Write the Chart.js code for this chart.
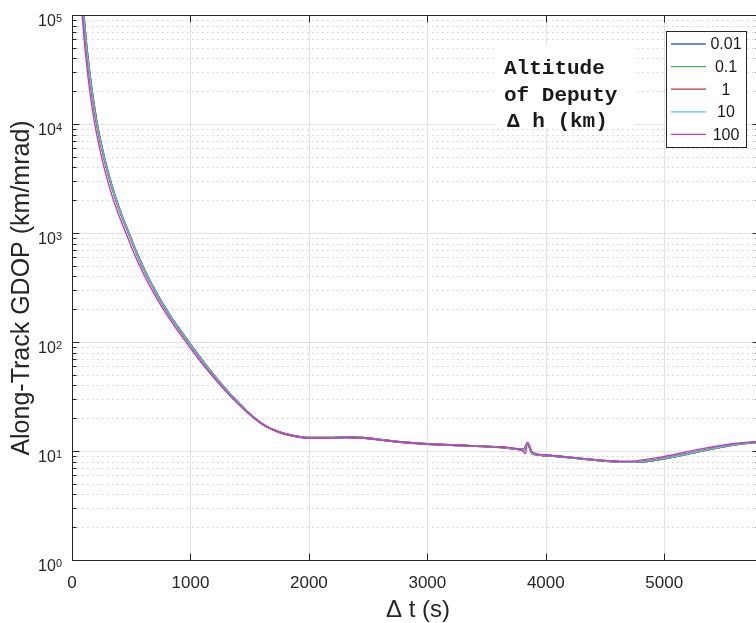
<!DOCTYPE html>
<html>
<head>
<meta charset="utf-8">
<script src="https://cdn.jsdelivr.net/npm/chart.js@4.4.1/dist/chart.umd.min.js"></script>
<style>
    html, body { margin: 0; padding: 0; background: #fff; overflow: hidden; }
    #wrap { width: 759px; height: 623px; }
</style>
</head>
<body>
<div id="wrap"><canvas id="gdop" width="759" height="623"></canvas></div>
<script>
// Δt (s) samples and along-track GDOP (km/mrad) for the low-altitude deputies (0.01 .. 10 km)
const deltaT = [85, 98, 120, 145, 175, 211, 250, 300, 360, 420, 478, 550, 630, 720, 820, 900, 985, 1090, 1200, 1336, 1477, 1617, 1758, 1900, 2000, 2180, 2320, 2460, 2600, 2770, 3000, 3340, 3620, 3815, 3845, 3886, 4000, 4320, 4600, 4745, 5000, 5310, 5590, 5800];
const gdopLow = [1.53e5, 1.0e5, 5.45e4, 3.09e4, 1.76e4, 1.0e4, 6.2e3, 3.71e3, 2.22e3, 1.44e3, 1.0e3, 640, 415, 272, 180, 134, 100, 69.5, 49.1, 33, 23.1, 17.4, 14.8, 13.6, 13.2, 13.2, 13.4, 13.2, 12.7, 12.1, 11.6, 11.2, 10.8, 10.3, 11.8, 9.45, 9.1, 8.45, 7.98, 7.93, 8.55, 10.0, 11.4, 12.1];

// 100 km deputy
const deltaTHigh = [72, 85, 106, 129, 157, 192, 230, 278, 337, 397, 455, 527, 607, 697, 797, 877, 962, 1070, 1183, 1324, 1470, 1614, 1758, 1900, 2000, 2180, 2320, 2460, 2600, 2770, 3000, 3340, 3620, 3790, 3830, 3845, 3890, 4000, 4300, 4560, 4680, 5000, 5300, 5590, 5800];
const gdopHigh = [1.53e5, 1.0e5, 5.45e4, 3.09e4, 1.76e4, 1.0e4, 6.2e3, 3.71e3, 2.22e3, 1.44e3, 1.0e3, 640, 415, 272, 180, 134, 100, 69.5, 49.1, 33, 23.1, 17.4, 14.8, 13.5, 13.1, 13.1, 13.3, 13.1, 12.6, 12.1, 11.6, 11.2, 10.8, 10.3, 9.5, 12.0, 9.7, 9.2, 8.55, 8.1, 8.05, 8.9, 10.4, 11.7, 12.2];

const altitudeLabels = ['0.01', '0.1', '1', '10', '100'];
const lineColors = ['#4466cc', '#4fae5c', '#c83232', '#4ccccc', '#c23cc2'];
const xTickValues = [0, 1000, 2000, 3000, 4000, 5000];
const yDecades = [0, 1, 2, 3, 4, 5];

const sansFont = '"Liberation Sans", Arial, Helvetica, sans-serif';
const monoFont = '"Liberation Mono", "Courier New", monospace';
const axisColor = '#262626';

const toPoints = (xs, ys) => xs.map((x, i) => ({ x, y: ys[i] }));

const seriesData = [
    toPoints(deltaT, gdopLow),
    toPoints(deltaT, gdopLow),
    toPoints(deltaT, gdopLow),
    toPoints(deltaT, gdopLow),
    toPoints(deltaTHigh, gdopHigh),
];

const crisp = (v) => Math.round(v) + 0.5;

// grid, box, ticks, labels, legend and the text note, drawn the way MATLAB lays them out
const matlabAxes = {
    id: 'matlabAxes',
    beforeDatasetsDraw(chart) {
        const { ctx, chartArea: area, scales: { x, y } } = chart;
        ctx.save();
        ctx.lineWidth = 1;

        // minor log grid (dotted)
        ctx.strokeStyle = '#d0d0d0';
        ctx.setLineDash([1.5, 3.5]);
        yDecades.slice(0, -1).forEach((k) => {
            for (let m = 2; m <= 9; m++) {
                const py = crisp(y.getPixelForValue(m * 10 ** k));
                ctx.beginPath();
                ctx.moveTo(area.left, py);
                ctx.lineTo(area.right, py);
                ctx.stroke();
            }
        });
        ctx.setLineDash([]);

        // major grid
        ctx.strokeStyle = '#e2e2e2';
        yDecades.slice(1, -1).forEach((k) => {
            const py = crisp(y.getPixelForValue(10 ** k));
            ctx.beginPath();
            ctx.moveTo(area.left, py);
            ctx.lineTo(area.right, py);
            ctx.stroke();
        });
        xTickValues.slice(1).forEach((v) => {
            const px = crisp(x.getPixelForValue(v));
            ctx.beginPath();
            ctx.moveTo(px, area.top);
            ctx.lineTo(px, area.bottom);
            ctx.stroke();
        });
        ctx.restore();
    },
    afterDatasetsDraw(chart) {
        const { ctx, chartArea: area, scales: { x, y } } = chart;
        const left = crisp(area.left);
        const right = crisp(area.right);
        const top = crisp(area.top);
        const bottom = crisp(area.bottom);

        ctx.save();

        // note box
        ctx.fillStyle = '#fff';
        ctx.fillRect(497, 46, 138, 82);
        ctx.fillStyle = '#1a1a1a';
        ctx.font = `bold 21px ${monoFont}`;
        ctx.textAlign = 'left';
        ctx.textBaseline = 'alphabetic';
        ctx.fillText('Altitude', 504, 74);
        ctx.fillText('of Deputy', 504, 101);
        ctx.fillText('Δ h (km)', 507, 127);

        // axes box
        ctx.strokeStyle = axisColor;
        ctx.lineWidth = 1;
        ctx.beginPath();
        ctx.moveTo(left, top);
        ctx.lineTo(left, bottom);
        ctx.lineTo(right, bottom);
        ctx.lineTo(right, top);
        ctx.closePath();
        ctx.stroke();

        // tick marks
        ctx.beginPath();
        xTickValues.forEach((v) => {
            const px = crisp(x.getPixelForValue(v));
            ctx.moveTo(px, bottom);
            ctx.lineTo(px, bottom - 7);
            ctx.moveTo(px, top);
            ctx.lineTo(px, top + 7);
        });
        yDecades.forEach((k) => {
            const py = crisp(y.getPixelForValue(10 ** k));
            ctx.moveTo(left, py);
            ctx.lineTo(left + 7, py);
            ctx.moveTo(right, py);
            ctx.lineTo(right - 7, py);
            if (k === 5) {
                return;
            }
            for (let m = 2; m <= 9; m++) {
                const pm = crisp(y.getPixelForValue(m * 10 ** k));
                ctx.moveTo(left, pm);
                ctx.lineTo(left + 4, pm);
                ctx.moveTo(right, pm);
                ctx.lineTo(right - 4, pm);
            }
        });
        ctx.stroke();

        // x tick labels
        ctx.fillStyle = axisColor;
        ctx.font = `17px ${sansFont}`;
        ctx.textAlign = 'center';
        ctx.textBaseline = 'alphabetic';
        xTickValues.forEach((v) => {
            ctx.fillText(String(v), x.getPixelForValue(v), area.bottom + 27.5);
        });

        // y tick labels, 10 with superscript exponent
        yDecades.forEach((k) => {
            const py = y.getPixelForValue(10 ** k);
            ctx.font = `11px ${sansFont}`;
            const expWidth = ctx.measureText(String(k)).width;
            const expLeft = area.left - 10 - expWidth;
            ctx.textAlign = 'left';
            ctx.fillText(String(k), expLeft, py + 6.5);
            ctx.font = `16px ${sansFont}`;
            ctx.textAlign = 'right';
            ctx.fillText('10', expLeft, py + 10.5);
        });

        // axis titles
        ctx.font = `24px ${sansFont}`;
        ctx.textAlign = 'center';
        ctx.fillText('Δ t (s)', 418, 617);
        ctx.save();
        ctx.font = `25px ${sansFont}`;
        ctx.translate(29, 288);
        ctx.rotate(-Math.PI / 2);
        ctx.fillText('Along-Track GDOP (km/mrad)', 0, 0);
        ctx.restore();

        // legend
        ctx.fillStyle = '#fff';
        ctx.fillRect(666, 31, 81, 117);
        ctx.strokeStyle = axisColor;
        ctx.strokeRect(666.5, 31.5, 80, 116);
        ctx.font = `16px ${sansFont}`;
        ctx.textAlign = 'center';
        ctx.textBaseline = 'middle';
        chart.data.datasets.forEach((ds, i) => {
            const ly = 44 + i * 22.6;
            ctx.strokeStyle = ds.borderColor;
            ctx.lineWidth = 1.3;
            ctx.beginPath();
            ctx.moveTo(671, ly);
            ctx.lineTo(706, ly);
            ctx.stroke();
            ctx.fillStyle = '#1a1a1a';
            ctx.fillText(ds.label, 726, ly + 1);
        });

        ctx.restore();
    },
};

const chart = new Chart(document.getElementById('gdop'), {
    type: 'line',
    data: {
        datasets: altitudeLabels.map((label, i) => ({
            label,
            data: seriesData[i],
            borderColor: lineColors[i],
            borderWidth: i < 3 ? 2 : 1.4,
            pointRadius: 0,
            cubicInterpolationMode: 'monotone',
            fill: false,
            order: altitudeLabels.length - i,
        })),
    },
    options: {
        responsive: false,
        devicePixelRatio: 1,
        animation: false,
        layout: { padding: { top: 15, right: 0, bottom: 0, left: 0 } },
        plugins: { legend: { display: false }, tooltip: { enabled: false } },
        scales: {
            x: {
                type: 'linear',
                min: 0,
                max: 5800,
                grid: { display: false },
                border: { display: false },
                ticks: { display: false },
                afterFit: (scale) => { scale.height = 63; },
            },
            y: {
                type: 'logarithmic',
                min: 1,
                max: 1e5,
                grid: { display: false },
                border: { display: false },
                ticks: { display: false },
                afterFit: (scale) => { scale.width = 72; },
            },
        },
    },
    plugins: [matlabAxes],
});
</script>
</body>
</html>
